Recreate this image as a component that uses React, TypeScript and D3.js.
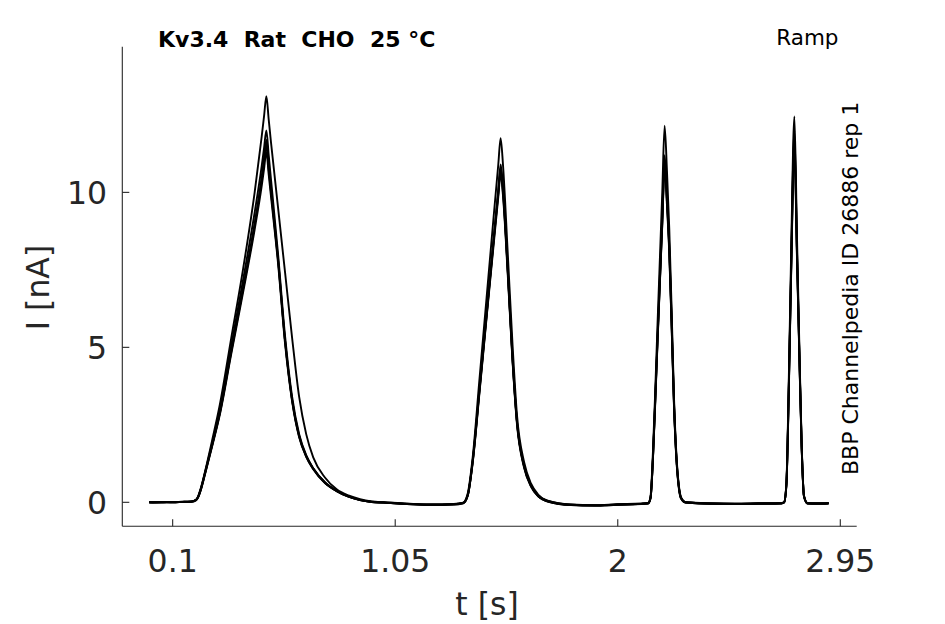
import { scaleLinear, line, curveMonotoneX } from "d3";

// sample times [s], shared by every sweep
const TIMES = [
  0, 0.05, 0.1, 0.15, 0.18,
  0.2, 0.21, 0.22, 0.24, 0.27, 0.3, 0.35, 0.4, 0.45, 0.48, 0.49, 0.5, 0.51, 0.52, 0.55, 0.58, 0.61, 0.64, 0.67, 0.7, 0.75, 0.8, 0.85, 0.9, 0.95,
  1.0, 1.1, 1.2, 1.3,
  1.34, 1.36, 1.38, 1.41, 1.44, 1.47, 1.49, 1.5, 1.51, 1.53, 1.55, 1.57, 1.6, 1.63, 1.66, 1.7,
  1.8, 1.9, 2.0, 2.1,
  2.13, 2.14, 2.15, 2.16, 2.17, 2.18, 2.19, 2.2, 2.21, 2.22, 2.23, 2.24, 2.25, 2.26, 2.27, 2.29,
  2.4, 2.5, 2.6, 2.7,
  2.71, 2.72, 2.73, 2.74, 2.754, 2.765, 2.775, 2.785, 2.795, 2.81,
  2.85, 2.9,
];

// current [nA] per sweep
const SWEEP_A = [
  0, 0.01, -0.01, 0.02, 0.03,
  0.08, 0.2, 0.42, 1.0, 1.9, 2.85, 4.9, 6.9, 9.0, 10.4, 10.95, 11.5, 10.75, 10.0, 7.8, 5.2, 3.3, 2.15, 1.5, 1.1, 0.65, 0.38, 0.2, 0.08, 0.02,
  0, -0.05, -0.08, -0.06,
  -0.02, 0.25, 1.3, 3.7, 6.1, 8.5, 10.1, 10.9, 10.2, 7.6, 4.8, 2.6, 1.2, 0.55, 0.22, 0.05,
  -0.08, -0.1, -0.07, -0.05,
  -0.03, 0.15, 1.4, 3.3, 5.3, 7.2, 9.1, 11.0, 9.8, 8.2, 5.8, 3.2, 1.5, 0.55, 0.15, 0.0,
  -0.04, -0.05, -0.04, -0.03,
  0.0, 0.6, 3.6, 7.4, 11.6, 8.0, 4.8, 1.8, 0.2, -0.03,
  -0.04, -0.03,
];

const SWEEP_B = [
  0, -0.01, 0.01, 0.02, 0.03,
  0.08, 0.22, 0.45, 1.05, 2.05, 3.1, 5.3, 7.5, 10.0, 11.8, 12.45, 13.1, 12.35, 11.6, 9.5, 7.4, 5.3, 3.4, 2.2, 1.45, 0.8, 0.42, 0.22, 0.1, 0.03,
  0, -0.04, -0.07, -0.05,
  -0.01, 0.3, 1.4, 4.0, 6.6, 9.2, 10.9, 11.75, 10.9, 8.1, 5.2, 2.8, 1.3, 0.6, 0.25, 0.05,
  -0.07, -0.09, -0.06, -0.04,
  -0.02, 0.2, 1.6, 3.6, 5.8, 7.9, 10.0, 12.15, 10.7, 8.8, 6.2, 3.4, 1.6, 0.6, 0.17, 0.0,
  -0.03, -0.04, -0.03, -0.02,
  0.0, 0.65, 3.9, 8.0, 12.45, 8.6, 5.1, 1.9, 0.22, -0.02,
  -0.03, -0.02,
];

const SWEEP_C = [
  0.01, 0, 0.01, 0.01, 0.02,
  0.07, 0.2, 0.43, 1.02, 1.95, 2.95, 5.05, 7.15, 9.35, 10.85, 11.42, 12.0, 11.2, 10.4, 8.0, 5.35, 3.4, 2.2, 1.52, 1.1, 0.64, 0.37, 0.19, 0.07, 0.01,
  -0.01, -0.06, -0.08, -0.07,
  -0.03, 0.22, 1.25, 3.6, 6.0, 8.4, 9.95, 10.7, 10.0, 7.5, 4.7, 2.55, 1.15, 0.52, 0.2, 0.03,
  -0.09, -0.1, -0.08, -0.05,
  -0.03, 0.14, 1.4, 3.35, 5.4, 7.35, 9.3, 11.2, 10.0, 8.3, 5.9, 3.25, 1.5, 0.55, 0.14, -0.01,
  -0.05, -0.05, -0.04, -0.03,
  0.0, 0.6, 3.7, 7.6, 12.0, 8.2, 4.9, 1.85, 0.2, -0.04,
  -0.04, -0.03,
];

const SWEEP_D = [
  -0.01, 0.01, 0, 0.02, 0.02,
  0.08, 0.19, 0.4, 0.98, 1.88, 2.82, 4.85, 6.85, 8.95, 10.5, 11.1, 11.7, 10.9, 10.1, 7.85, 5.2, 3.3, 2.12, 1.48, 1.08, 0.63, 0.36, 0.18, 0.07, 0.01,
  -0.01, -0.05, -0.07, -0.06,
  -0.02, 0.24, 1.28, 3.65, 6.05, 8.45, 10.0, 10.8, 10.1, 7.55, 4.75, 2.58, 1.18, 0.53, 0.21, 0.04,
  -0.08, -0.1, -0.07, -0.05,
  -0.03, 0.15, 1.38, 3.28, 5.25, 7.15, 9.0, 10.9, 9.7, 8.1, 5.7, 3.15, 1.45, 0.53, 0.14, 0.0,
  -0.04, -0.05, -0.04, -0.03,
  0.0, 0.58, 3.6, 7.45, 11.8, 8.1, 4.85, 1.8, 0.19, -0.03,
  -0.04, -0.03,
];

const SWEEP_E = [
  0, 0, 0.01, 0.01, 0.02,
  0.07, 0.18, 0.39, 0.96, 1.85, 2.78, 4.78, 6.75, 8.8, 10.2, 10.75, 11.3, 10.57, 9.85, 7.7, 5.1, 3.25, 2.1, 1.47, 1.07, 0.62, 0.36, 0.18, 0.07, 0.01,
  -0.01, -0.06, -0.09, -0.07,
  -0.03, 0.23, 1.22, 3.55, 5.95, 8.3, 9.85, 10.6, 9.9, 7.4, 4.65, 2.5, 1.12, 0.5, 0.19, 0.02,
  -0.09, -0.11, -0.08, -0.06,
  -0.04, 0.13, 1.35, 3.2, 5.2, 7.1, 8.95, 10.8, 9.6, 8.0, 5.65, 3.1, 1.42, 0.5, 0.12, -0.01,
  -0.05, -0.06, -0.05, -0.04,
  -0.01, 0.55, 3.5, 7.3, 11.4, 7.9, 4.75, 1.75, 0.18, -0.04,
  -0.05, -0.04,
];

const SWEEPS = [SWEEP_E, SWEEP_D, SWEEP_A, SWEEP_C, SWEEP_B];

const X_TICKS = [0.1, 1.05, 2, 2.95];
const X_TICK_LABELS = ["0.1", "1.05", "2", "2.95"];
const Y_TICKS = [0, 5, 10];

const TITLE = "Kv3.4  Rat  CHO  25 °C";
const PROTOCOL = "Ramp";
const SOURCE = "BBP Channelpedia ID 26886 rep 1";

const WIDTH = 945;
const HEIGHT = 624;
const AXIS = { left: 122.3, right: 856.7, top: 46.7, bottom: 526.3 };
const TICK_LEN = 7;
const FONT = "'DejaVu Sans', Verdana, sans-serif";
const INK = "#262626";

export default function App() {
  const x = scaleLinear().domain([-0.115, 3.02]).range([AXIS.left, AXIS.right]);
  const y = scaleLinear().domain([-0.774, 14.7]).range([AXIS.bottom, AXIS.top]);

  const trace = line<number>()
    .x((_, i) => x(TIMES[i]))
    .y((d) => y(d))
    .curve(curveMonotoneX);

  return (
    <>
      <style>{`body{margin:0;background:#fff}`}</style>
      <svg width={WIDTH} height={HEIGHT} viewBox={`0 0 ${WIDTH} ${HEIGHT}`} style={{ display: "block", fontFamily: FONT }}>
        <rect width={WIDTH} height={HEIGHT} fill="#fff" />

        {/* sweeps */}
        {SWEEPS.map((s, i) => (
          <path key={i} d={trace(s) ?? ""} fill="none" stroke="#000" strokeWidth={1.9} strokeLinejoin="round" />
        ))}

        {/* axes */}
        <line x1={AXIS.left} x2={AXIS.left} y1={AXIS.top} y2={AXIS.bottom} stroke={INK} strokeWidth={1.1} />
        <line x1={AXIS.left} x2={AXIS.right} y1={AXIS.bottom} y2={AXIS.bottom} stroke={INK} strokeWidth={1.1} />

        {X_TICKS.map((t, i) => (
          <g key={t}>
            <line x1={x(t)} x2={x(t)} y1={AXIS.bottom} y2={AXIS.bottom - TICK_LEN} stroke={INK} strokeWidth={1.1} />
            <text x={x(t)} y={572} textAnchor="middle" fontSize={31.5} fill={INK}>
              {X_TICK_LABELS[i]}
            </text>
          </g>
        ))}

        {Y_TICKS.map((t) => (
          <g key={t}>
            <line x1={AXIS.left} x2={AXIS.left + TICK_LEN} y1={y(t)} y2={y(t)} stroke={INK} strokeWidth={1.1} />
            <text x={107} y={y(t)} dy="0.36em" textAnchor="end" fontSize={31.5} fill={INK}>
              {t}
            </text>
          </g>
        ))}

        {/* axis labels */}
        <text x={487} y={615} textAnchor="middle" fontSize={31.5} fill={INK}>
          t [s]
        </text>
        <text transform="translate(49,287.5) rotate(-90)" textAnchor="middle" fontSize={31.5} fill={INK}>
          I [nA]
        </text>

        {/* annotations */}
        <text x={158} y={46.7} fontSize={22} fontWeight="bold" fill="#000" style={{ whiteSpace: "pre" }}>
          {TITLE}
        </text>
        <text x={838.5} y={45} textAnchor="end" fontSize={21.5} fill="#000">
          {PROTOCOL}
        </text>
        <text transform="translate(857.5,475) rotate(-90)" fontSize={22} fill="#000">
          {SOURCE}
        </text>
      </svg>
    </>
  );
}
